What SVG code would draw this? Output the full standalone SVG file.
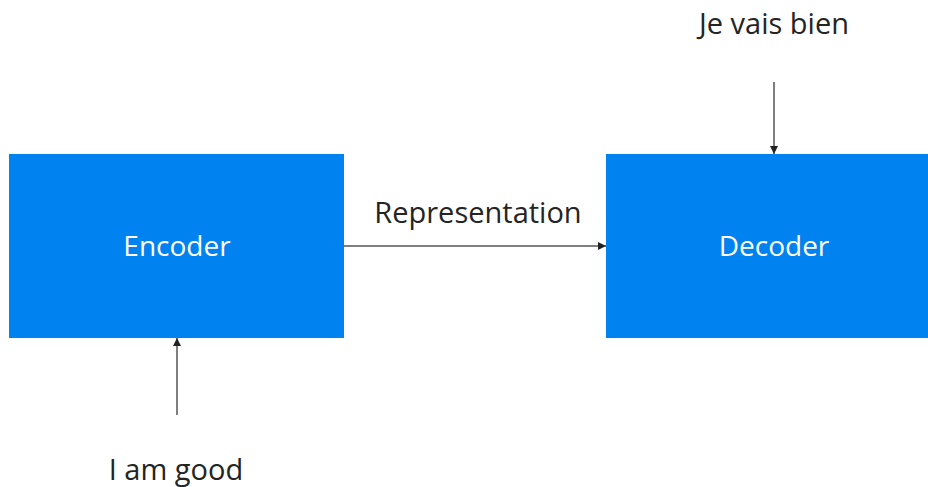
<svg xmlns="http://www.w3.org/2000/svg" width="928" height="487" viewBox="0 0 928 487">
<style>
.box{fill:#0082F0;}
.in{font-family:"Open Sans","Noto Sans",sans-serif;font-size:28px;fill:#ffffff;text-anchor:middle;}
.lbl{font-family:"Open Sans","Noto Sans",sans-serif;font-size:29px;fill:#242424;text-anchor:middle;}
.edge{stroke:#555555;stroke-width:1.5;fill:none;marker-end:url(#ah);}
</style>
<defs>
<marker id="ah" viewBox="0 0 10 10" refX="10" refY="5" markerWidth="8" markerHeight="8" markerUnits="userSpaceOnUse" orient="auto">
<path d="M0,0 L10,5 L0,10 z" fill="#222222"/>
</marker>
</defs>
<rect width="928" height="487" fill="#ffffff"/>
<g id="encoder">
<rect class="box" x="9" y="154" width="335" height="184"/>
<text class="in" x="177" y="256">Encoder</text>
</g>
<g id="decoder">
<rect class="box" x="606" y="154" width="322" height="184"/>
<text class="in" x="774" y="256">Decoder</text>
</g>
<g id="input-label">
<text class="lbl" x="176" y="480">I am good</text>
</g>
<g id="output-label">
<text class="lbl" x="774" y="34">Je vais bien</text>
</g>
<g id="connectors">
<line class="edge" x1="344" y1="246" x2="606" y2="246"/>
<text class="lbl" x="478" y="223">Representation</text>
<line class="edge" x1="177" y1="415" x2="177" y2="338"/>
<line class="edge" x1="774" y1="82" x2="774" y2="154"/>
</g>
</svg>
